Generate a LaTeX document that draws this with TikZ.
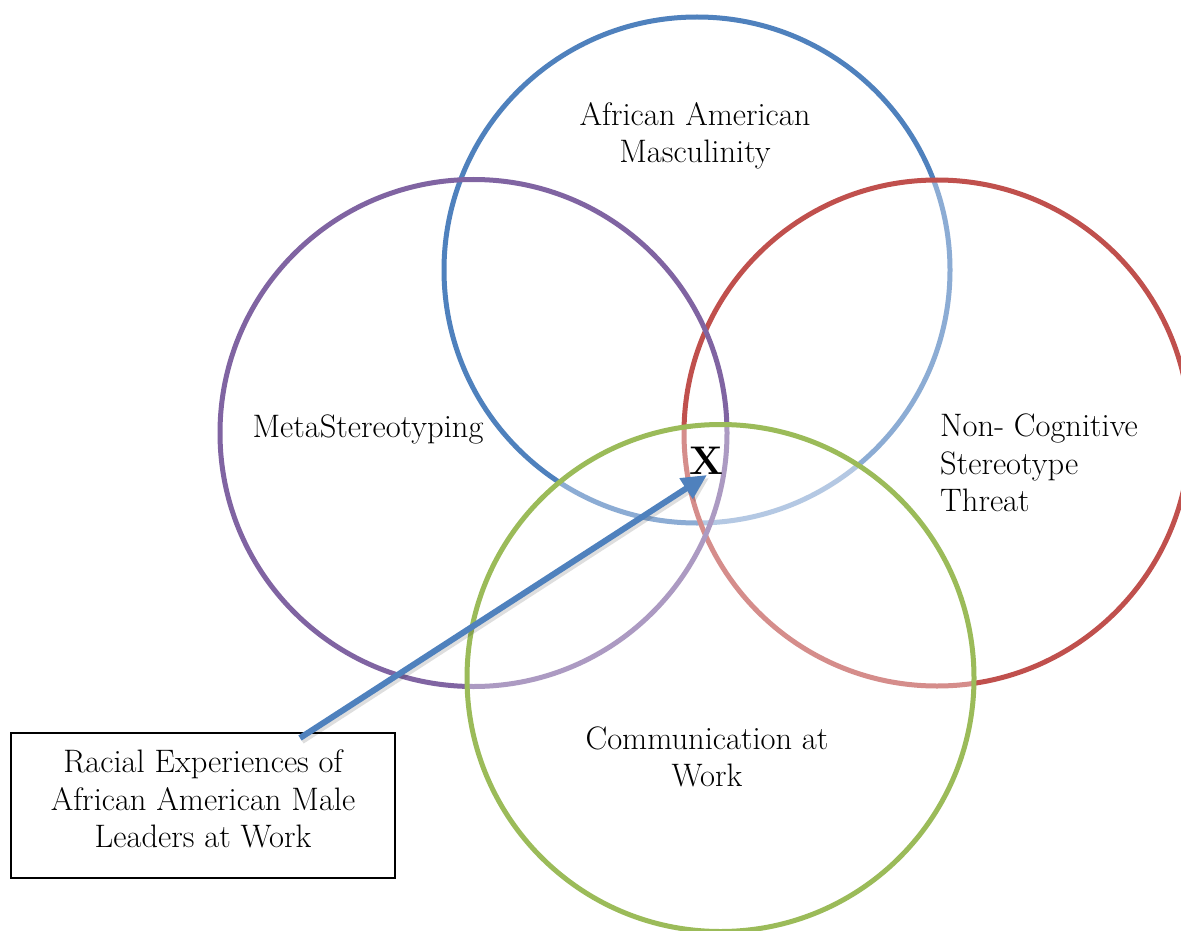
\documentclass[tikz,border=0pt]{standalone}
\usepackage{fontspec}
\usetikzlibrary{arrows.meta,calc}
\definecolor{cblue}{HTML}{4F81BD}
\definecolor{cred}{HTML}{C0504D}
\definecolor{cgreen}{HTML}{9BBB59}
\definecolor{cpurple}{HTML}{8064A2}
\begin{document}
\begin{tikzpicture}[x=1pt,y=-1pt,
  ring/.style={line width=5pt},
  veil/.style={fill=white,fill opacity=0.35},
  lbl/.style={inner sep=0pt,font=\fontsize{32.5}{37.5}\selectfont},
  framebox/.style={draw=black,line width=1.6pt,inner sep=0pt,minimum width=384pt,minimum height=145pt},
  pointer/.style={line width=6pt,-{Triangle[length=25pt,width=23pt]}}]
\clip (0,0) rectangle (1181,931);
\fill[white] (0,0) rectangle (1181,931);
% circles (order and white veils reproduce the lighter segments)
\draw[ring,cblue] (697,270) circle[radius=253];
\draw[ring,cred,veil] (937,433) circle[radius=253];
\draw[ring,cpurple] (473.5,433) circle[radius=253.5];
\draw[ring,cgreen,veil] (720.5,678) circle[radius=253.5];
% labels
\node[lbl,align=center] (aam) at (695,136) {African American\\Masculinity};
\node[lbl] (meta) at (368,429) {MetaStereotyping};
\node[lbl,align=left,anchor=west] (ncst) at (940,463) {Non- Cognitive\\Stereotype\\Threat};
\node[lbl,align=center] (comm) at (707,757) {Communication at\\Work};
\node[inner sep=0pt,font=\fontsize{40}{40}\selectfont\bfseries] (X) at (706,461) {X};
% box
\node[framebox] (box) at (203,805.5) {};
\node[lbl,align=center] (boxtext) at (203,799) {Racial Experiences of\\African American Male\\Leaders at Work};
% arrow
\coordinate (tail) at (300,738);
\coordinate (tip) at (707,475);
\draw[pointer,black,opacity=0.13] ($(tail)+(2,3)$) -- ($(tip)+(2,3)$);
\draw[pointer,cblue] (tail) -- (tip);
\end{tikzpicture}
\end{document}
